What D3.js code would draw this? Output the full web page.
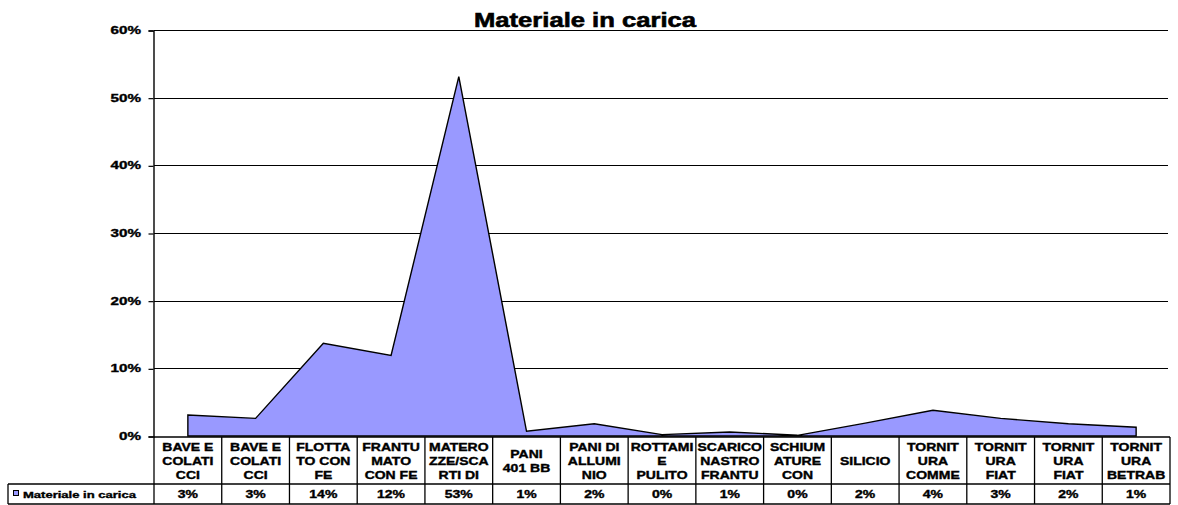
<!DOCTYPE html>
<html>
<head>
<meta charset="utf-8">
<script src="https://cdn.jsdelivr.net/npm/d3@7/dist/d3.min.js"></script>
<style>
  html, body { margin: 0; padding: 0; background: #fff; }
  svg { display: block; }
  text { font-family: "Liberation Sans", Arial, sans-serif; font-weight: bold; fill: #000; stroke: #000; stroke-width: 0.35px; }
</style>
</head>
<body>
<svg id="chart" width="1178" height="505"></svg>
<script>
// Category names, split the way the data-table cells wrap them
const categories = [
  ["BAVE E", "COLATI", "CCI"],
  ["BAVE E", "COLATI", "CCI"],
  ["FLOTTA", "TO CON", "FE"],
  ["FRANTU", "MATO", "CON FE"],
  ["MATERO", "ZZE/SCA", "RTI DI"],
  ["PANI", "401 BB"],
  ["PANI DI", "ALLUMI", "NIO"],
  ["ROTTAMI", "E", "PULITO"],
  ["SCARICO", "NASTRO", "FRANTU"],
  ["SCHIUM", "ATURE", "CON"],
  ["SILICIO"],
  ["TORNIT", "URA", "COMME"],
  ["TORNIT", "URA", "FIAT"],
  ["TORNIT", "URA", "FIAT"],
  ["TORNIT", "URA", "BETRAB"]
];

// Share of each material in the charge
const values = [0.031, 0.026, 0.137, 0.119, 0.531, 0.007, 0.018, 0.002, 0.006, 0.001, 0.019, 0.038, 0.026, 0.018, 0.013];

const yTicks = [0, 0.1, 0.2, 0.3, 0.4, 0.5, 0.6];
const title = "Materiale in carica";
const seriesName = "Materiale in carica";

(function draw() {
  const svg = d3.select("#chart");
  const SX = 1.35; // horizontal stretch of the bold lettering

  const plotLeft = 154, plotRight = 1170, plotTop = 30, base = 436;
  const rowTop = 437, rowMid = 484, rowBot = 504, legendLeft = 8;

  const x = d3.scaleBand().domain(d3.range(categories.length)).range([plotLeft, plotRight]);
  const y = d3.scaleLinear().domain([0, 0.6]).range([base, plotTop]);
  const pct = d3.format(".0%");

  function stretchedText(g, tx, ty, str, size, anchor, sx) {
    return g.append("text")
      .attr("transform", `translate(${tx},${ty}) scale(${sx || SX},1)`)
      .attr("text-anchor", anchor || "middle")
      .style("font-size", size + "px")
      .text(str);
  }

  // Title
  stretchedText(svg, 585, 27, title, 20, "middle", 1.28).style("stroke-width", "0.6px");

  // Horizontal gridlines
  svg.append("g").selectAll("line").data(yTicks.filter(d => d > 0)).join("line")
    .attr("x1", plotLeft).attr("x2", plotRight - 2)
    .attr("y1", d => Math.round(y(d)) + 0.5).attr("y2", d => Math.round(y(d)) + 0.5)
    .attr("stroke", "#000").attr("stroke-width", 1.2);

  // Area
  const area = d3.area()
    .x((d, i) => x(i) + x.bandwidth() / 2)
    .y0(base)
    .y1(d => y(d));
  svg.append("path").datum(values)
    .attr("d", area)
    .attr("fill", "#9999FF")
    .attr("stroke", "#000")
    .attr("stroke-width", 1.4)
    .attr("stroke-linejoin", "miter");

  // Y axis
  const yAxis = d3.axisLeft(y).tickValues(yTicks).tickFormat(pct).tickSize(5).tickPadding(8);
  const ya = svg.append("g").attr("transform", `translate(${plotLeft - 0.5},0.5)`).call(yAxis);
  ya.select(".domain").attr("stroke", "#000").attr("stroke-width", 1.4);
  ya.selectAll(".tick line").attr("stroke", "#000").attr("stroke-width", 1.2);
  ya.selectAll(".tick text").remove();
  yTicks.forEach(t => {
    stretchedText(svg, 141, Math.round(y(t)) + 4, pct(t), 10.5, "end", 1.45);
  });

  // Data table
  const tbl = svg.append("g");
  const line = (x1, y1, x2, y2) => tbl.append("line")
    .attr("x1", x1).attr("y1", y1).attr("x2", x2).attr("y2", y2)
    .attr("stroke", "#000").attr("stroke-width", 1.3);

  line(plotLeft, rowTop, plotRight, rowTop);
  line(legendLeft, rowMid, plotRight, rowMid);
  line(legendLeft, rowBot, plotRight, rowBot);
  line(legendLeft, rowMid, legendLeft, rowBot);
  d3.range(categories.length + 1).forEach(i => {
    const xx = i < categories.length ? x(i) : plotRight;
    line(xx, rowTop, xx, rowBot);
  });

  categories.forEach((lines, i) => {
    const cx = x(i) + x.bandwidth() / 2;
    const n = lines.length;
    const first = n === 3 ? 451 : n === 2 ? 458 : 465;
    lines.forEach((s, k) => stretchedText(tbl, cx, first + k * 14, s, 10, "middle", 1.4));
    stretchedText(tbl, cx, 498, pct(values[i]), 10, "middle", 1.4);
  });

  // Legend key in the table
  tbl.append("rect").attr("x", 13.5).attr("y", 490.5).attr("width", 5).attr("height", 5)
    .attr("fill", "#9999FF").attr("stroke", "#000").attr("stroke-width", 1);
  stretchedText(tbl, 23, 498, seriesName, 9, "start", 1.45);
})();
</script>
</body>
</html>
